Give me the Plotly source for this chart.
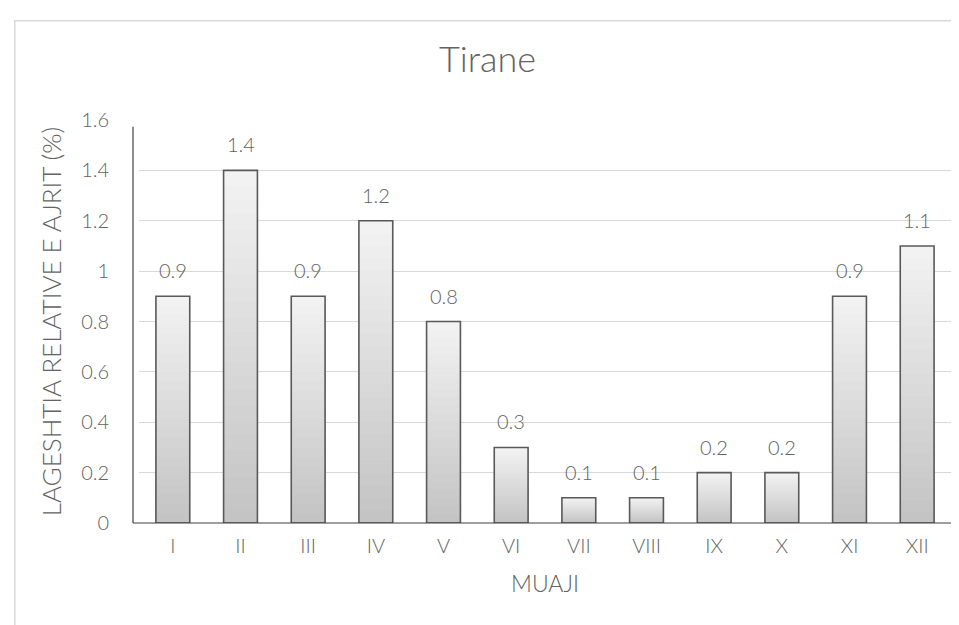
import plotly.graph_objects as go

months = ["I", "II", "III", "IV", "V", "VI", "VII", "VIII", "IX", "X", "XI", "XII"]
humidity = [0.9, 1.4, 0.9, 1.2, 0.8, 0.3, 0.1, 0.1, 0.2, 0.2, 0.9, 1.1]
y_ticks = [0, 0.2, 0.4, 0.6, 0.8, 1, 1.2, 1.4, 1.6]

title_text = "Tirane"
x_title = "MUAJI"
y_title = "LAGESHTIA RELATIVE E AJRIT (%)"

FONT = "Lato, 'Liberation Sans', sans-serif"
GREY = "#636363"
EDGE = "#595959"
W = 300

fig = go.Figure()

# gradient effect: overlaid bars, lighter at top, darker at bottom
n = 24
light = (242, 242, 242)
dark = (196, 196, 196)
for k in range(n):
    frac = 1 - k / n
    t = k / (n - 1)
    c = tuple(round(light[i] + (dark[i] - light[i]) * t) for i in range(3))
    fig.add_trace(go.Bar(
        x=months, y=[v * frac for v in humidity],
        marker=dict(color="rgb(%d,%d,%d)" % c, line=dict(width=0)),
        width=0.5, hoverinfo="skip", showlegend=False))

# outline
fig.add_trace(go.Bar(
    x=months, y=humidity,
    marker=dict(color="rgba(0,0,0,0)", line=dict(color=EDGE, width=1.6)),
    width=0.5, showlegend=False))

for m, v in zip(months, humidity):
    fig.add_annotation(x=m, y=v, text=f"{v:g}", showarrow=False,
                       yanchor="bottom", yshift=12,
                       font=dict(family=FONT, size=20, color=GREY, weight=W))

# outer chart border (extends past the window on right/bottom)
fig.add_shape(type="rect", xref="paper", yref="paper",
              x0=-0.153, x1=1.2, y0=-0.4, y1=1.246,
              line=dict(color="#d9d9d9", width=1.5), layer="below")
# axis lines (Excel-like, slightly offset from plot edge)
fig.add_shape(type="line", xref="paper", yref="paper",
              x0=-0.0074, x1=-0.0074, y0=0, y1=0.983,
              line=dict(color="#404040", width=1.2))
fig.add_shape(type="line", xref="paper", yref="paper",
              x0=-0.0074, x1=1.0, y0=0, y1=0,
              line=dict(color="#404040", width=1.2))

fig.update_layout(
    width=959, height=625,
    margin=dict(l=131, r=16, t=112, b=110),
    barmode="overlay",
    paper_bgcolor="white", plot_bgcolor="white",
    font=dict(family=FONT, color=GREY, weight=W),
    title=dict(text=title_text, x=0.5, xanchor="center", y=0.918, yanchor="middle",
               font=dict(family=FONT, size=36, color=GREY, weight=W)),
    xaxis=dict(
        title=dict(text=x_title, font=dict(family=FONT, size=23, color=GREY, weight=W), standoff=19),
        tickfont=dict(family=FONT, size=20, color=GREY, weight=W),
        showline=False, showgrid=False, ticks="", ticklabelstandoff=9),
    yaxis=dict(
        title=dict(text=y_title, font=dict(family=FONT, size=26, color=GREY, weight=W), standoff=12),
        tickfont=dict(family=FONT, size=20, color=GREY, weight=W),
        range=[0, 1.6], tickvals=y_ticks, ticktext=[f"{t:g}" for t in y_ticks],
        showgrid=True, gridcolor="#d9d9d9", gridwidth=1.2,
        showline=False, zeroline=False, ticks="", ticklabelstandoff=29),
)

fig.write_html("out.html")
